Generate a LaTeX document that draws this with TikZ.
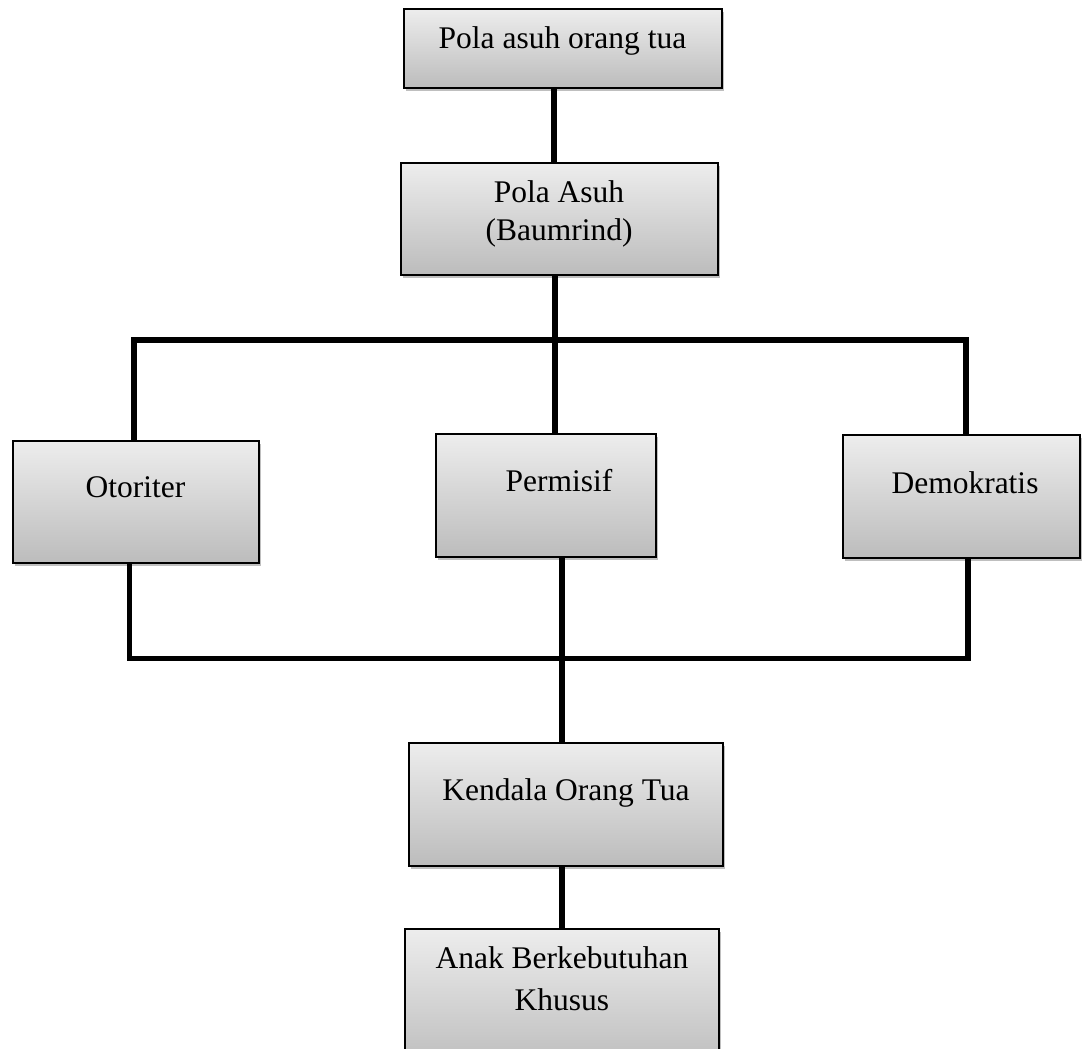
\documentclass[tikz,border=0pt]{standalone}
\usepackage{fontspec}
\setmainfont{Liberation Serif}
\usetikzlibrary{shadows}
\definecolor{boxtop}{RGB}{237,237,237}
\definecolor{boxbot}{RGB}{188,188,188}
\tikzset{
  boxnode/.style={rectangle, draw=black, line width=1.3pt, inner sep=0pt,
    top color=boxtop, bottom color=boxbot,
    drop shadow={shadow xshift=2pt, shadow yshift=-3pt, fill=black, opacity=0.25}},
  txt/.style={anchor=base, inner sep=0pt, align=center, font=\fontsize{31.5}{38}\selectfont},
  conn/.style={draw=black, line width=5.5pt, line cap=butt, line join=miter}
}
\begin{document}
\begin{tikzpicture}[x=1pt,y=-1pt]
\useasboundingbox (0,0) rectangle (1082,1049);
\clip (0,0) rectangle (1082,1049);
% boxes
\node[boxnode, minimum width=318pt, minimum height=79pt] (b1) at (563,48.5) {};
\node[boxnode, minimum width=317pt, minimum height=112pt] (b2) at (559.5,219) {};
\node[boxnode, minimum width=246pt, minimum height=122pt] (oto) at (136,502) {};
\node[boxnode, minimum width=220pt, minimum height=123pt] (perm) at (546,495.5) {};
\node[boxnode, minimum width=237pt, minimum height=123pt] (demo) at (961.5,496.5) {};
\node[boxnode, minimum width=314pt, minimum height=123pt] (kend) at (566,804.5) {};
\node[boxnode, minimum width=314pt, minimum height=141pt] (anak) at (562,999.5) {};
% texts
\node[txt] (t1) at (562.5,49) {Pola asuh orang tua};
\node[txt] (t2) at (559,240) {Pola Asuh\\[0pt](Baumrind)};
\node[txt] (t3) at (135.5,497) {Otoriter};
\node[txt] (t4) at (559,491) {Permisif};
\node[txt] (t5) at (965,493) {Demokratis};
\node[txt] (t6) at (566,800) {Kendala Orang Tua};
\node[txt] (t7) at (562,1010) {Anak Berkebutuhan\\[4pt]Khusus};
% bus coordinates
\coordinate (busU) at (555,340);
\coordinate (busL) at (562,658.5);
% connectors
\draw[conn] ([xshift=-9pt]b1.south) -- ([xshift=-5.5pt]b2.north);
\draw[conn] ([xshift=-4.5pt]b2.south) -- (busU);
\draw[conn] ([xshift=-2pt]oto.north) |- (busU) -| ([xshift=4.5pt]demo.north);
\draw[conn] (busU) -- ([xshift=9pt]perm.north);
\draw[conn] ([xshift=-6.5pt]oto.south) |- (busL) -| ([xshift=6.5pt]demo.south);
\draw[conn] ([xshift=16pt]perm.south) -- (busL);
\draw[conn] (busL) -- ([xshift=-4pt]kend.north);
\draw[conn] ([xshift=-4pt]kend.south) -- ([xshift=0pt]anak.north);
\end{tikzpicture}
\end{document}
